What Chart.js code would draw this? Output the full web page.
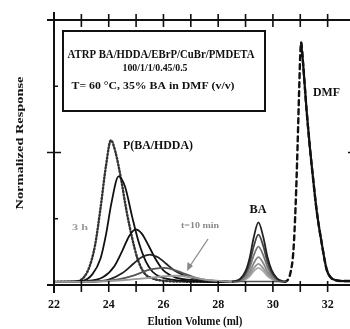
<!DOCTYPE html>
<html><head><meta charset="utf-8">
<script src="https://cdn.jsdelivr.net/npm/chart.js@4/dist/chart.umd.min.js"></script>
<style>html,body{margin:0;padding:0;background:#fff;overflow:hidden;width:350px;height:329px}#wrap{width:370px;height:329px}</style>
</head><body><div id="wrap"><canvas id="c" width="370" height="329"></canvas></div>
<script>
// Elution volume (mL) / normalized response for each GPC trace
const vol3h  = [22.0, 22.8, 23.1, 23.3, 23.5, 23.7, 23.9, 24.08, 24.25, 24.45, 24.65, 24.85, 25.05, 25.3, 25.6, 26.0, 26.6, 27.5, 28.5];
const resp3h = [0.012, 0.013, 0.03, 0.07, 0.15, 0.29, 0.45, 0.546, 0.50, 0.40, 0.28, 0.18, 0.10, 0.045, 0.025, 0.016, 0.013, 0.012, 0.012];
const volT2  = [22.0, 23.0, 23.4, 23.7, 23.9, 24.1, 24.36, 24.6, 24.85, 25.1, 25.35, 25.6, 25.9, 26.3, 26.9, 27.8, 28.5];
const respT2 = [0.012, 0.015, 0.04, 0.10, 0.19, 0.31, 0.41, 0.37, 0.26, 0.16, 0.09, 0.05, 0.03, 0.02, 0.015, 0.012, 0.012];
const volT3  = [22.0, 23.2, 23.8, 24.2, 24.5, 24.75, 24.98, 25.2, 25.45, 25.7, 26.0, 26.4, 26.9, 27.6, 28.5];
const respT3 = [0.012, 0.015, 0.03, 0.07, 0.13, 0.185, 0.21, 0.195, 0.15, 0.10, 0.055, 0.03, 0.02, 0.015, 0.012];
const volT4  = [22.0, 23.4, 24.0, 24.5, 24.9, 25.2, 25.5, 25.8, 26.1, 26.4, 26.8, 27.3, 28.0, 28.5];
const respT4 = [0.012, 0.013, 0.02, 0.045, 0.08, 0.105, 0.115, 0.105, 0.08, 0.055, 0.035, 0.02, 0.015, 0.012];
const volT5  = [22.0, 23.5, 24.3, 24.9, 25.4, 25.7, 26.0, 26.3, 26.7, 27.1, 27.6, 28.5];
const respT5 = [0.012, 0.013, 0.02, 0.035, 0.055, 0.062, 0.065, 0.06, 0.045, 0.03, 0.018, 0.012];
const vol10m  = [22.0, 23.5, 24.5, 25.3, 25.9, 26.5, 27.1, 27.7, 28.5];
const resp10m = [0.012, 0.013, 0.018, 0.025, 0.032, 0.035, 0.028, 0.018, 0.012];
// BA monomer peaks (one per sample)
const volBA   = [28.5, 28.8, 29.0, 29.15, 29.3, 29.47, 29.65, 29.8, 29.95, 30.15, 30.4];
const respBA1 = [0.012, 0.023, 0.052, 0.102, 0.18, 0.236, 0.18, 0.106, 0.057, 0.025, 0.012];
const respBA2 = [0.012, 0.021, 0.044, 0.083, 0.146, 0.19, 0.146, 0.087, 0.048, 0.023, 0.012];
const respBA3 = [0.012, 0.019, 0.036, 0.065, 0.112, 0.145, 0.112, 0.068, 0.039, 0.02, 0.012];
const respBA4 = [0.012, 0.017, 0.029, 0.049, 0.082, 0.105, 0.082, 0.051, 0.031, 0.018, 0.012];
const respBA5 = [0.012, 0.015, 0.024, 0.039, 0.063, 0.08, 0.063, 0.041, 0.026, 0.016, 0.012];
const respBA6 = [0.012, 0.015, 0.022, 0.033, 0.052, 0.065, 0.052, 0.034, 0.023, 0.015, 0.012];
// DMF solvent peak
const volDMFa  = [30.4, 30.5, 30.65, 30.75, 30.83, 30.9, 30.96, 31.0, 31.03, 31.1, 31.23, 31.35, 31.46, 31.6, 31.78, 31.96, 32.1, 32.3, 32.6, 33.0];
const respDMFa = [0.012, 0.015, 0.05, 0.13, 0.30, 0.52, 0.74, 0.87, 0.915, 0.84, 0.66, 0.52, 0.41, 0.28, 0.16, 0.06, 0.03, 0.018, 0.015, 0.015];
const volDMFb  = [31.03, 31.1, 31.23, 31.35, 31.46, 31.6, 31.78, 31.96, 32.1, 32.3, 32.6, 33.0];
const respDMFb = [0.915, 0.84, 0.66, 0.52, 0.41, 0.28, 0.16, 0.06, 0.03, 0.018, 0.015, 0.015];
const volBase  = [28.4, 28.8, 29.5, 30.2, 30.5];
const respBase = [0.012, 0.013, 0.013, 0.013, 0.013];
// Axis ticks
const xTickValues = [22, 24, 26, 28, 30, 32];
const xTickLabels = ['22', '24', '26', '28', '30', '32'];

function pts(xs, ys) { return xs.map((x, i) => ({x: x, y: ys[i]})); }
function ds(xs, ys, color, width, dash) {
  return { data: pts(xs, ys), borderColor: color, borderWidth: width, borderDash: dash || [],
    pointRadius: 0, fill: false, cubicInterpolationMode: 'monotone', borderCapStyle: dash ? 'round' : 'butt' };
}

function fitText(ctx, text, x, y, o) {
  ctx.save();
  ctx.font = o.font;
  ctx.fillStyle = o.color || '#111';
  ctx.textBaseline = 'middle';
  ctx.textAlign = o.align || 'center';
  const w = ctx.measureText(text).width;
  const sx = o.width ? o.width / w : 1;
  ctx.translate(x, y);
  if (o.rotate) ctx.rotate(o.rotate);
  ctx.scale(sx, 1);
  ctx.fillText(text, 0, 0);
  ctx.restore();
}

const deco = {
  id: 'deco',
  afterDraw(chart) {
    const ctx = chart.ctx, xs = chart.scales.x, ys = chart.scales.y;
    const L = xs.left, R = xs.right, T = ys.top, B = ys.bottom;
    ctx.save();
    ctx.strokeStyle = '#111';
    ctx.lineWidth = 2;
    ctx.beginPath();
    ctx.moveTo(L - 7, T); ctx.lineTo(R + 10, T);
    ctx.moveTo(L - 7, B); ctx.lineTo(R + 10, B);
    ctx.moveTo(L, T - 8); ctx.lineTo(L, B + 8);
    ctx.moveTo(R, T - 8); ctx.lineTo(R, B + 8);
    ctx.stroke();
    ctx.lineWidth = 1.6;
    ctx.beginPath();
    for (let v = 22; v <= 33; v++) {
      const p = xs.getPixelForValue(v);
      ctx.moveTo(p, B - 4); ctx.lineTo(p, B + 7);
      ctx.moveTo(p, T - 6); ctx.lineTo(p, T + 7);
    }
    [0.25, 0.5, 0.75].forEach(v => {
      const p = ys.getPixelForValue(v);
      const big = v === 0.5;
      ctx.moveTo(L - (big ? 7 : 0), p); ctx.lineTo(L + (big ? 7 : 4), p);
      ctx.moveTo(R - (big ? 7 : 4), p); ctx.lineTo(R + (big ? 7 : 0), p);
    });
    ctx.stroke();
    // tick labels
    xTickValues.forEach((v, i) => {
      fitText(ctx, xTickLabels[i], xs.getPixelForValue(v), B + 20, {font: 'bold 13px "Liberation Serif"', width: 12});
    });
    // axis titles
    fitText(ctx, 'Elution Volume (ml)', 195, 322, {font: 'bold 12px "Liberation Serif"', width: 95});
    fitText(ctx, 'Normalized Response', 20, 143, {font: 'bold 11px "Liberation Serif"', width: 133, rotate: -Math.PI / 2});
    // annotation box
    ctx.lineWidth = 2;
    ctx.strokeRect(63, 31, 202, 80);
    fitText(ctx, 'ATRP BA/HDDA/EBrP/CuBr/PMDETA', 161, 55, {font: 'bold 12px "Liberation Serif"', width: 187});
    fitText(ctx, '100/1/1/0.45/0.5', 155, 68, {font: 'bold 10px "Liberation Serif"', width: 65});
    fitText(ctx, 'T= 60 °C, 35% BA in DMF (v/v)', 153, 86, {font: 'bold 11px "Liberation Serif"', width: 163});
    // peak labels
    fitText(ctx, 'P(BA/HDDA)', 123, 146, {font: 'bold 12px "Liberation Serif"', width: 70, align: 'left'});
    fitText(ctx, 'BA', 258, 210, {font: 'bold 13px "Liberation Serif"', width: 17});
    fitText(ctx, 'DMF', 313, 93, {font: 'bold 13px "Liberation Serif"', width: 27, align: 'left'});
    fitText(ctx, '3 h', 80, 228, {font: 'bold 9px "Liberation Serif"', width: 16, color: '#999'});
    fitText(ctx, 't=10 min', 200, 226, {font: 'bold 9px "Liberation Serif"', width: 38, color: '#888'});
    // arrow
    ctx.strokeStyle = '#888'; ctx.fillStyle = '#888'; ctx.lineWidth = 1.3;
    ctx.beginPath(); ctx.moveTo(208, 239); ctx.lineTo(190, 266); ctx.stroke();
    ctx.beginPath(); ctx.moveTo(187, 271); ctx.lineTo(187.5, 262); ctx.lineTo(193, 266); ctx.closePath(); ctx.fill();
    ctx.restore();
  }
};

new Chart(document.getElementById('c'), {
  type: 'line',
  data: { datasets: [
    ds(vol10m, resp10m, '#9a9a9a', 1.8),
    ds(volT5, respT5, '#555', 1.8),
    ds(volT4, respT4, '#222', 1.8),
    ds(volT3, respT3, '#111', 1.8),
    ds(volT2, respT2, '#111', 1.8),
    ds(vol3h, resp3h, '#333', 2.4, [1.2, 2.2]),
    ds(volBase, respBase, '#555', 1.5),
    ds(volBA, respBA1, '#222', 1.8),
    ds(volBA, respBA2, '#444', 1.8),
    ds(volBA, respBA3, '#777', 1.8),
    ds(volBA, respBA4, '#888', 1.8),
    ds(volBA, respBA5, '#999', 1.8),
    ds(volBA, respBA6, '#aaa', 1.8),
    ds(volDMFa, respDMFa, '#111', 2.4, [5, 4]),
    ds(volDMFb, respDMFb, '#111', 2.2)
  ]},
  options: {
    responsive: false, animation: false,
    layout: { padding: { left: 54, top: 20, right: 15, bottom: 44 } },
    plugins: { legend: { display: false }, tooltip: { enabled: false } },
    scales: {
      x: { type: 'linear', min: 22, max: 33, display: false },
      y: { min: 0, max: 1, display: false }
    }
  },
  plugins: [deco]
});
</script>
</body></html>
